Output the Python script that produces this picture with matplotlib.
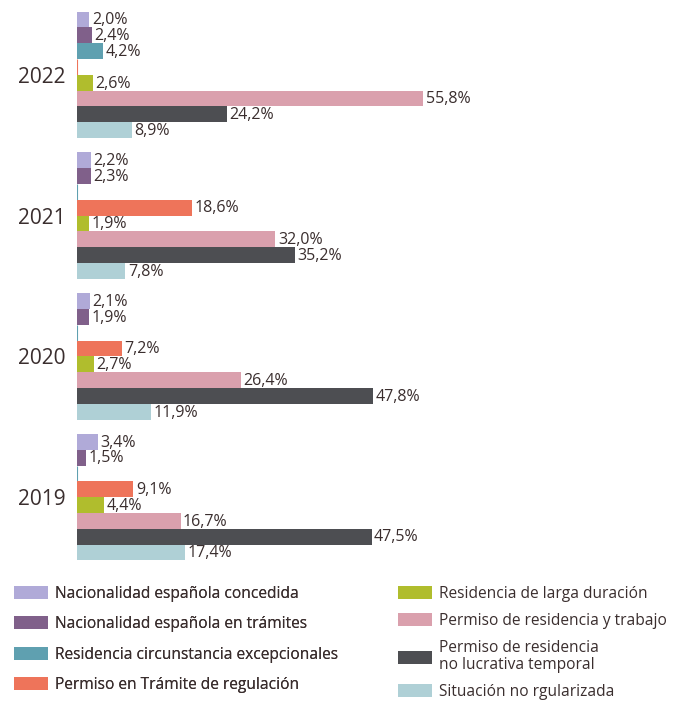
import numpy as np
import matplotlib.pyplot as plt
from matplotlib.patches import Patch

plt.rcParams['font.family'] = ['Open Sans', 'DejaVu Sans']

# ============================================================
# 数据
# ============================================================
years = ["2022", "2021", "2020", "2019"]
categories = [
    "Nacionalidad española concedida",
    "Nacionalidad española en trámites",
    "Residencia circunstancia excepcionales",
    "Permiso en Trámite de regulación",
    "Residencia de larga duración",
    "Permiso de residencia y trabajo",
    "Permiso de residencia\nno lucrativa temporal",
    "Situación no rgularizada",
]
colors = ["#b0aad8", "#80608a", "#5fa0b0", "#ee745a",
          "#b0bd2d", "#daa0ad", "#4d4e52", "#afd0d6"]

# None = 该年没有数据
v2022 = [2.0, 2.4, 4.2, None, 2.6, 55.8, 24.2, 8.9]
v2021 = [2.2, 2.3, None, 18.6, 1.9, 32.0, 35.2, 7.8]
v2020 = [2.1, 1.9, None, 7.2, 2.7, 26.4, 47.8, 11.9]
v2019 = [3.4, 1.5, None, 9.1, 4.4, 16.7, 47.5, 17.4]
values = [v2022, v2021, v2020, v2019]

TEXT = "#3a2e2e"
PITCH = 8.9   # 组间距（以柱高为单位）

fig = plt.figure(figsize=(6.86, 7.05), dpi=100)
ax = fig.add_axes([77 / 686, 1 - 562 / 705, 560 / 686, 552 / 705])

for i, vals in enumerate(values):
    for j, v in enumerate(vals):
        y = i * PITCH + j
        w = 0 if v is None else v
        ax.barh(y, w, height=1.0, color=colors[j], edgecolor=colors[j],
                linewidth=0.8 if v is None else 0)
        if v is not None:
            ax.text(v + 0.4, y + 0.05, f"{v:.1f}%".replace(".", ","),
                    va="center", ha="left", fontsize=11.5, color=TEXT)

ax.set_ylim(4 * PITCH - PITCH + 7.6, -0.6)
ax.set_xlim(0, 90.3)
ax.set_yticks([i * PITCH + 3.5 for i in range(len(years))])
ax.set_yticklabels(years, fontsize=15, color=TEXT)
ax.tick_params(axis="y", length=0, pad=8)
ax.set_xticks([])
for s in ax.spines.values():
    s.set_visible(False)

# 图例：左右两列分开放
handles = [Patch(facecolor=c, edgecolor="none") for c in colors]
leg_kw = dict(loc="upper left", frameon=False, fontsize=11.2, labelcolor=TEXT,
              handlelength=2.2, handleheight=0.9, handletextpad=0.45,
              borderaxespad=0, borderpad=0)
leg1 = fig.legend(handles[:4], categories[:4], labelspacing=0.92,
                  bbox_to_anchor=(14 / 686, 1 - 586 / 705), **leg_kw)
fig.add_artist(leg1)
leg2 = fig.legend(handles[4:], categories[4:], labelspacing=0.72,
                  bbox_to_anchor=(398 / 686, 1 - 586 / 705), **leg_kw)
leg2.get_texts()[2].set_linespacing(1.05)

plt.savefig("out.png", dpi=100)
